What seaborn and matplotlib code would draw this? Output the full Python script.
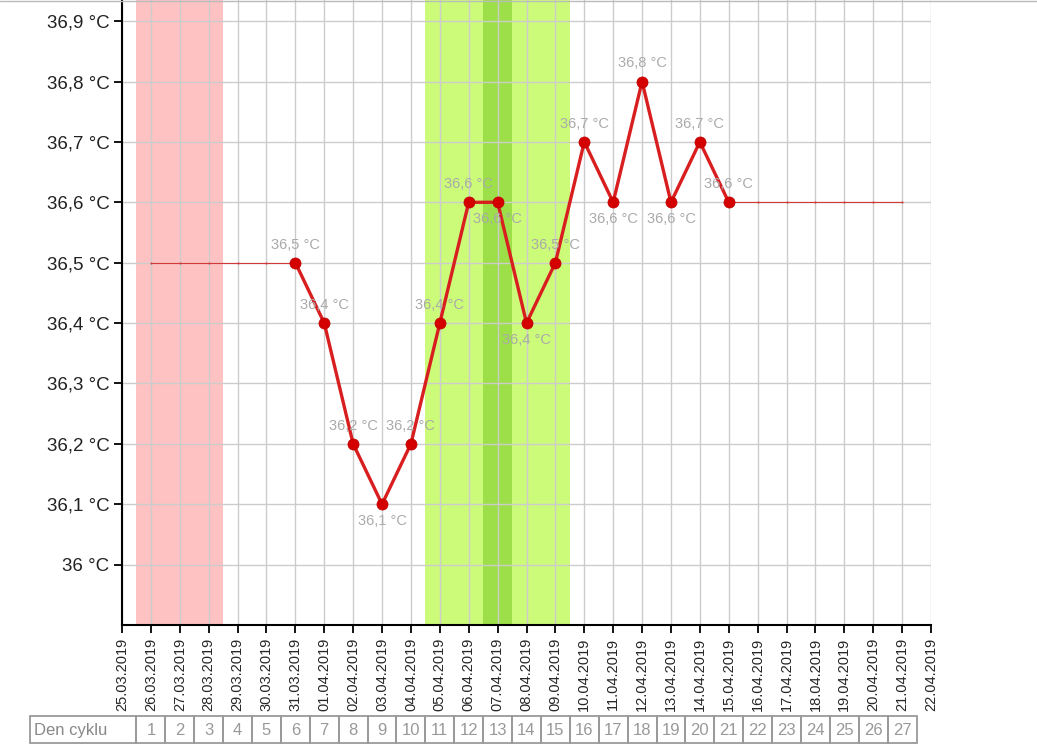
import numpy as np
import pandas as pd
import matplotlib
matplotlib.use('Agg')
import matplotlib.pyplot as plt
from matplotlib.lines import Line2D
from matplotlib.patches import Rectangle
import seaborn as sns

# data
dates = ['25.03.2019', '26.03.2019', '27.03.2019', '28.03.2019', '29.03.2019',
         '30.03.2019', '31.03.2019', '01.04.2019', '02.04.2019', '03.04.2019',
         '04.04.2019', '05.04.2019', '06.04.2019', '07.04.2019', '08.04.2019',
         '09.04.2019', '10.04.2019', '11.04.2019', '12.04.2019', '13.04.2019',
         '14.04.2019', '15.04.2019', '16.04.2019', '17.04.2019', '18.04.2019',
         '19.04.2019', '20.04.2019', '21.04.2019', '22.04.2019']
cycle_days = list(range(1, 28))          # cycle day 1 = 26.03.2019
measured_dates = ['31.03.2019', '01.04.2019', '02.04.2019', '03.04.2019',
                  '04.04.2019', '05.04.2019', '06.04.2019', '07.04.2019',
                  '08.04.2019', '09.04.2019', '10.04.2019', '11.04.2019',
                  '12.04.2019', '13.04.2019', '14.04.2019', '15.04.2019']
temps = [36.5, 36.4, 36.2, 36.1, 36.2, 36.4, 36.6, 36.6,
         36.4, 36.5, 36.7, 36.6, 36.8, 36.6, 36.7, 36.6]
label_side = ['up', 'up', 'up', 'down', 'up', 'up', 'up', 'down',
              'down', 'up', 'up', 'down', 'up', 'down', 'up', 'up']
period_days = [1, 3]        # menstruation (cycle days)
fertile_days = [11, 15]
ovulation_day = 13
yticks = [36.0, 36.1, 36.2, 36.3, 36.4, 36.5, 36.6, 36.7, 36.8, 36.9]

pos = {d: i for i, d in enumerate(dates)}
df = pd.DataFrame({'x': [pos[d] for d in measured_dates], 't': temps})

def fmt(v):
    s = f'{v:.1f}'.rstrip('0').rstrip('.')
    return s.replace('.', ',') + ' °C'

sns.set_style('white')
plt.rcParams['font.family'] = ['Liberation Sans', 'DejaVu Sans']

fig = plt.figure(figsize=(10.37, 7.45), dpi=100)
ax = fig.add_axes([122 / 1037, 1 - 625 / 745, (931 - 122) / 1037, 625 / 745])

# bands
ax.axvspan(period_days[0] - 0.5, period_days[1] + 0.5, color='#ffc2c2', zorder=0, lw=0)
ax.axvspan(fertile_days[0] - 0.5, fertile_days[1] + 0.5, color='#ccfb7a', zorder=0, lw=0)
ax.axvspan(ovulation_day - 0.5, ovulation_day + 0.5, color='#9ddf48', zorder=0, lw=0)

# thin filler lines (before first and after last measurement)
first_x, last_x = df['x'].iloc[0], df['x'].iloc[-1]
pre = pd.DataFrame({'x': range(cycle_days[0], first_x + 1), 't': temps[0]})
post = pd.DataFrame({'x': range(last_x, cycle_days[-1] + 1), 't': temps[-1]})
for part in (pre, post):
    sns.lineplot(data=part, x='x', y='t', ax=ax, color='#d23a3a', lw=0.8,
                 marker='o', markersize=1.5, markeredgewidth=0, zorder=3)

sns.lineplot(data=df, x='x', y='t', ax=ax, color='#d81e1e', lw=2.4,
             marker='o', markersize=8, markerfacecolor='#d40000',
             markeredgecolor='#c00000', markeredgewidth=0.5, zorder=4)

for (x, t), side in zip(zip(df['x'], df['t']), label_side):
    if side == 'up':
        ax.annotate(fmt(t), (x, t), xytext=(0, 8), textcoords='offset points',
                    ha='center', va='bottom', fontsize=10.5, color='#aaaaaa', zorder=5)
    else:
        ax.annotate(fmt(t), (x, t), xytext=(0, -7), textcoords='offset points',
                    ha='center', va='top', fontsize=10.5, color='#aaaaaa', zorder=5)

ax.set_xlim(0, len(dates) - 1)
ax.set_ylim(35.9, 36.935)
ax.set_xticks(range(len(dates)))
ax.set_xticklabels(dates, rotation=90, fontsize=10.5)
ax.set_yticks(yticks)
ax.set_yticklabels([fmt(v) for v in yticks], fontsize=13.5, color='#222222')
ax.set_xlabel('')
ax.set_ylabel('')
ax.grid(True, color='#cccccc', lw=1)
ax.set_axisbelow(True)
ax.tick_params(axis='both', direction='out', length=6, width=1.3, color='black',
               left=True, bottom=True, pad=3)
for s in ['top', 'right']:
    ax.spines[s].set_visible(False)
for s in ['left', 'bottom']:
    ax.spines[s].set_color('black')
    ax.spines[s].set_linewidth(1.5)

# cycle-day table
tab = fig.add_axes([122 / 1037, 1 - 743 / 745, (931 - 122) / 1037, 27 / 745])
tab.set_xlim(ax.get_xlim())
tab.set_ylim(0, 1)
tab.axis('off')
left_edge = -3.18
edge = '#9a9a9a'
tab.add_patch(Rectangle((left_edge, 0), 0.5 - left_edge, 1, fill=False,
                        ec=edge, lw=1.3, clip_on=False))
tab.text(left_edge + 0.12, 0.45, 'Den cyklu', ha='left', va='center',
         fontsize=12, color='#888888', clip_on=False)
for d in cycle_days:
    tab.add_patch(Rectangle((d - 0.5, 0), 1, 1, fill=False, ec=edge, lw=1.3,
                            clip_on=False))
    tab.text(d, 0.45, str(d), ha='center', va='center', fontsize=12,
             color='#999999', clip_on=False)

fig.add_artist(Line2D([0, 1], [1 - 1 / 745, 1 - 1 / 745], color='#bbbbbb', lw=1,
                      zorder=10))

fig.savefig('out.png', dpi=100)
